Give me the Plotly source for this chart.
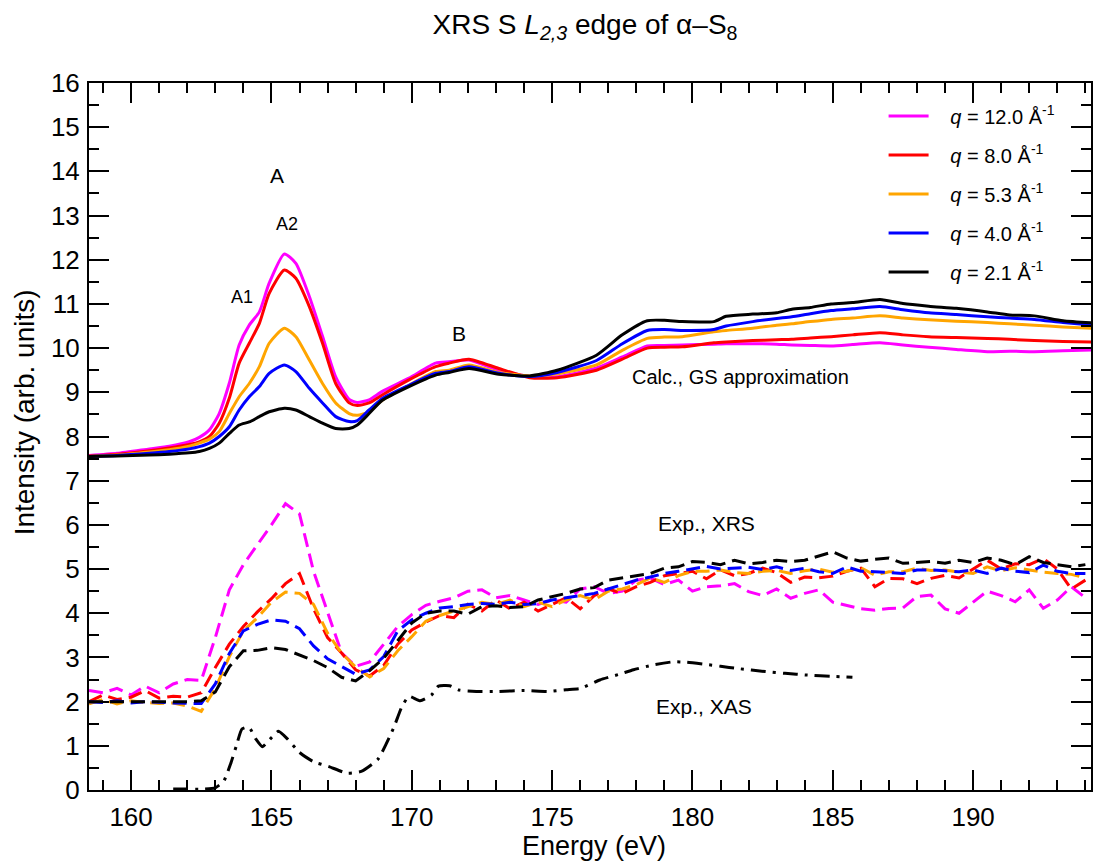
import numpy as np
import plotly.graph_objects as go

# ---------------- calculated spectra (GS approximation) ----------------
calc_energy = [158.5, 159.5, 160.65, 161.36, 162.07, 162.43, 162.79, 163.14, 163.5, 163.85,
               164.21, 164.57, 164.92, 165.46, 165.87, 166.35, 166.82, 167.29, 167.77, 168.06,
               168.48, 168.95, 169.9, 170.85, 171.33, 172.04, 173.1, 174.2, 175.18, 176.58,
               177.5, 178.39, 179.0, 179.64, 180.76, 181.2, 182.15, 183.0, 183.54, 184.2,
               184.94, 185.7, 186.68, 187.5, 188.42, 189.4, 190.51, 191.3, 192.18, 193.2, 194.25]

calc_q120 = [7.57, 7.62, 7.72, 7.78, 7.88, 7.98, 8.15, 8.52, 9.21, 10.07,
             10.52, 10.82, 11.47, 12.13, 11.92, 11.17, 10.27, 9.35, 8.84, 8.77,
             8.83, 9.02, 9.32, 9.66, 9.69, 9.73, 9.5, 9.36, 9.35, 9.55,
             9.8, 10.05, 10.06, 10.07, 10.09, 10.1, 10.1, 10.09, 10.07, 10.06,
             10.05, 10.08, 10.12, 10.07, 10.02, 9.97, 9.92, 9.93, 9.92, 9.94, 9.96]
calc_q80 = [7.56, 7.6, 7.68, 7.74, 7.82, 7.88, 8.0, 8.3, 8.87, 9.66,
            10.11, 10.56, 11.24, 11.77, 11.58, 10.94, 10.11, 9.2, 8.76, 8.7,
            8.76, 8.94, 9.28, 9.58, 9.66, 9.75, 9.54, 9.33, 9.33, 9.5,
            9.75, 10.0, 10.02, 10.03, 10.12, 10.14, 10.17, 10.19, 10.2, 10.23,
            10.26, 10.3, 10.35, 10.3, 10.26, 10.24, 10.22, 10.2, 10.17, 10.15, 10.14]
calc_q53 = [7.55, 7.58, 7.65, 7.7, 7.78, 7.85, 7.94, 8.11, 8.52, 8.9,
            9.2, 9.58, 10.11, 10.45, 10.26, 9.73, 9.2, 8.76, 8.52, 8.48,
            8.56, 8.82, 9.16, 9.47, 9.5, 9.62, 9.45, 9.37, 9.42, 9.62,
            9.95, 10.22, 10.25, 10.26, 10.37, 10.4, 10.45, 10.52, 10.55, 10.6,
            10.65, 10.68, 10.73, 10.68, 10.64, 10.61, 10.58, 10.55, 10.52, 10.48, 10.45]
calc_q40 = [7.55, 7.57, 7.62, 7.66, 7.72, 7.77, 7.85, 8.0, 8.22, 8.6,
            8.9, 9.13, 9.43, 9.62, 9.47, 9.09, 8.76, 8.45, 8.34, 8.36,
            8.6, 8.86, 9.16, 9.43, 9.47, 9.58, 9.43, 9.36, 9.45, 9.72,
            10.1, 10.4, 10.42, 10.4, 10.42, 10.5, 10.6, 10.67, 10.71, 10.78,
            10.85, 10.89, 10.94, 10.87, 10.8, 10.76, 10.71, 10.68, 10.65, 10.58, 10.52]
calc_q21 = [7.55, 7.56, 7.58, 7.6, 7.63, 7.66, 7.73, 7.85, 8.07, 8.26,
            8.33, 8.45, 8.56, 8.64, 8.6, 8.45, 8.3, 8.18, 8.18, 8.26,
            8.52, 8.82, 9.13, 9.39, 9.45, 9.54, 9.41, 9.37, 9.5, 9.84,
            10.3, 10.62, 10.63, 10.6, 10.6, 10.72, 10.77, 10.8, 10.88, 10.92,
            11.0, 11.03, 11.1, 11.01, 10.95, 10.9, 10.82, 10.75, 10.73, 10.62, 10.57]

# ---------------- experimental XRS spectra ----------------
exp_energy = np.round(np.arange(158.5, 194.01, 0.5), 1)

exp_q120 = [2.25, 2.2, 2.3, 2.15, 2.35, 2.2, 2.4, 2.5, 2.48, 3.45,
            4.53, 5.1, 5.55, 6.0, 6.48, 6.25, 4.95, 4.0, 3.1, 2.8,
            2.9, 3.3, 3.7, 3.97, 4.18, 4.27, 4.35, 4.5, 4.53, 4.35,
            4.4, 4.3, 4.2, 4.3, 4.25, 4.55, 4.6, 4.45, 4.5, 4.75,
            4.8, 4.65, 4.75, 4.5, 4.6, 4.62, 4.67, 4.49, 4.4, 4.55,
            4.34, 4.45, 4.53, 4.25, 4.18, 4.1, 4.07, 4.11, 4.12, 4.38,
            4.41, 4.1, 4.0, 4.26, 4.5, 4.4, 4.26, 4.53, 4.11, 4.3,
            4.6, 4.35]
exp_q80 = [2.0, 2.15, 2.05, 2.1, 2.25, 2.08, 2.12, 2.1, 2.2, 2.77,
           3.3, 3.7, 4.03, 4.33, 4.67, 4.9, 4.1, 3.45, 3.1, 2.72,
           2.58, 2.82, 3.3, 3.62, 3.8, 3.95, 3.9, 4.2, 4.05, 4.3,
           4.1, 4.25, 4.05, 4.2, 4.35, 4.1, 4.4, 4.55, 4.45, 4.6,
           4.7, 4.85, 4.9, 4.95, 4.78, 4.98, 4.85, 4.9, 5.02, 4.92,
           4.7, 4.82, 4.8, 4.84, 4.95, 5.02, 4.6, 4.79, 4.78, 4.67,
           4.79, 4.86, 4.8, 5.0, 5.2, 5.0, 5.12, 5.1, 5.24, 5.0,
           4.55, 4.75]
exp_q53 = [1.95, 2.05, 1.95, 2.02, 1.98, 1.96, 1.97, 1.9, 1.78, 2.3,
           3.02, 3.6, 3.9, 4.25, 4.48, 4.45, 4.2, 3.55, 3.1, 2.78,
           2.56, 2.75, 3.15, 3.47, 3.82, 3.95, 4.05, 4.15, 4.25, 4.2,
           4.3, 4.15, 4.25, 4.15, 4.3, 4.4, 4.3, 4.5, 4.55, 4.65,
           4.8, 4.7, 4.85, 4.95, 4.95, 4.98, 4.92, 4.9, 4.95, 4.97,
           4.9, 4.96, 5.0, 4.93, 4.95, 5.03, 4.86, 4.94, 4.94, 5.02,
           4.97, 4.98, 4.93, 4.9, 5.05, 4.96, 5.03, 4.98, 4.93, 4.9,
           4.88, 4.8]
exp_q40 = [2.0, 1.98, 2.02, 1.97, 2.0, 1.98, 1.97, 1.96, 1.96, 2.4,
           3.09, 3.6, 3.75, 3.85, 3.82, 3.65, 3.26, 2.97, 2.79, 2.62,
           2.72, 3.02, 3.6, 3.85, 4.0, 4.12, 4.15, 4.2, 4.22, 4.2,
           4.25, 4.2, 4.22, 4.3, 4.35, 4.4, 4.45, 4.55, 4.65, 4.75,
           4.82, 4.9, 4.95, 5.0, 5.06, 5.0, 5.02, 5.04, 4.99, 5.05,
           4.97, 5.02, 4.94, 4.9, 5.05, 4.95, 4.94, 4.92, 4.9, 4.98,
           4.98, 4.96, 4.94, 4.98, 4.9, 5.02, 4.95, 4.92, 5.09, 4.95,
           4.9, 4.9]
exp_q21 = [2.0, 2.0, 2.0, 2.0, 2.0, 2.0, 2.0, 2.0, 2.02, 2.22,
           2.79, 3.15, 3.16, 3.22, 3.18, 3.05, 2.93, 2.77, 2.55, 2.47,
           2.7, 2.98, 3.38, 3.78, 4.0, 4.05, 4.05, 3.98, 4.15, 4.17,
           4.13, 4.15, 4.3, 4.38, 4.45, 4.55, 4.58, 4.75, 4.8, 4.86,
           4.9, 5.02, 5.05, 5.17, 5.15, 5.1, 5.2, 5.12, 5.15, 5.2,
           5.17, 5.2, 5.3, 5.39, 5.25, 5.18, 5.22, 5.25, 5.13, 5.15,
           5.17, 5.13, 5.2, 5.15, 5.25, 5.2, 5.1, 5.28, 5.15, 5.1,
           5.05, 5.1]

# ---------------- experimental XAS spectrum ----------------
xas_energy = [161.5, 162.0, 162.5, 163.0, 163.3, 163.55, 163.75, 163.95, 164.2, 164.45,
              164.68, 164.95, 165.25, 165.55, 166.0, 166.5, 167.05, 167.7, 168.2, 168.8,
              169.35, 169.65, 169.9, 170.3, 170.7, 170.95, 171.35, 171.7, 172.3, 173.1,
              174.0, 174.9, 175.5, 176.0, 176.7, 177.4, 177.9, 178.6, 179.3, 179.8,
              180.5, 181.0, 181.6, 182.6, 183.3, 184.1, 185.0, 185.7]
xas_intensity = [0.02, 0.02, 0.02, 0.05, 0.2, 0.6, 1.0, 1.38, 1.42, 1.15,
                 0.98, 1.15, 1.33, 1.17, 0.85, 0.64, 0.53, 0.38, 0.42, 0.7,
                 1.4, 1.89, 2.12, 2.02, 2.15, 2.35, 2.36, 2.26, 2.23, 2.23,
                 2.25, 2.23, 2.27, 2.3, 2.49, 2.62, 2.72, 2.83, 2.9, 2.89,
                 2.84, 2.8, 2.75, 2.68, 2.64, 2.6, 2.57, 2.55]

q_labels = ["12.0", "8.0", "5.3", "4.0", "2.1"]
colors = ["#ff00ff", "#ff0000", "#ffa500", "#0000ff", "#000000"]
calc_series = [calc_q120, calc_q80, calc_q53, calc_q40, calc_q21]
exp_series = [exp_q120, exp_q80, exp_q53, exp_q40, exp_q21]

FONT = "Liberation Sans, Arial, Helvetica, sans-serif"
GAP = "\u00a0\u00a0\u00a0"  # spacing between legend line sample and its label

fig = go.Figure()

for q, c, ys in zip(q_labels, colors, exp_series):
    fig.add_trace(go.Scatter(
        x=exp_energy, y=ys, mode="lines", showlegend=False,
        line=dict(color=c, width=3, dash="14px,7px"),
    ))

fig.add_trace(go.Scatter(
    x=xas_energy, y=xas_intensity, mode="lines", showlegend=False,
    line=dict(color="black", width=3, dash="15px,7px,3px,7px", shape="spline", smoothing=0.5),
))

for q, c, ys in zip(q_labels, colors, calc_series):
    fig.add_trace(go.Scatter(
        x=calc_energy, y=ys, mode="lines",
        name=f"{GAP}<i>q</i> = {q} Å<sup>-1</sup>", legendgroup=q,
        line=dict(color=c, width=3, shape="spline", smoothing=0.6),
    ))

notes = [
    (165.2, 13.9, "A", 21),
    (165.55, 12.8, "A2", 18),
    (163.95, 11.15, "A1", 18),
    (171.7, 10.32, "B", 21),
    (181.7, 9.34, "Calc., GS approximation", 20),
    (180.5, 6.04, "Exp., XRS", 21),
    (180.4, 1.88, "Exp., XAS", 21),
]
for x, y, t, s in notes:
    fig.add_annotation(x=x, y=y, text=t, showarrow=False,
                       font=dict(family=FONT, size=s, color="black"))

# axis titles placed explicitly around the frame
fig.add_annotation(x=-65 / 1004, xref="paper", xanchor="center", y=8.55, yref="y",
                   text="Intensity (arb. units)", textangle=-90, showarrow=False,
                   font=dict(family=FONT, size=28, color="black"))
fig.add_annotation(x=0.504, xref="paper", xanchor="center", y=-56 / 707, yref="paper",
                   yanchor="middle", text="Energy (eV)", showarrow=False,
                   font=dict(family=FONT, size=27, color="black"))

axis_common = dict(
    showline=True, linecolor="black", linewidth=2, mirror="allticks",
    ticks="inside", tickcolor="black", tickwidth=2,
    showgrid=False, zeroline=False,
    tickfont=dict(family=FONT, size=26, color="black"),
)

fig.update_xaxes(
    range=[158.5, 194.2], dtick=5, tick0=160, ticklen=20,
    minor=dict(dtick=1, ticklen=10, tickwidth=2, tickcolor="black", ticks="inside"),
    ticklabelstandoff=3,
    **axis_common,
)
fig.update_yaxes(
    range=[0, 16], dtick=1, tick0=0, ticklen=20,
    minor=dict(dtick=0.5, ticklen=10, tickwidth=2, tickcolor="black", ticks="inside"),
    ticklabelstandoff=2,
    **axis_common,
)

fig.update_layout(
    width=1094, height=861,
    margin=dict(l=89, r=1, t=83, b=71),
    paper_bgcolor="white", plot_bgcolor="white",
    title=dict(text="XRS S <i>L</i><sub><i>2,3</i></sub> edge of α–S<sub>8</sub>",
               x=0.495, xref="paper", y=0.972, yanchor="middle",
               font=dict(family=FONT, size=28, color="black")),
    legend=dict(x=0.793, y=0.981, xanchor="left", yanchor="top",
                bgcolor="rgba(255,255,255,0)", borderwidth=0,
                font=dict(family=FONT, size=20, color="black"),
                traceorder="grouped", tracegroupgap=10, itemwidth=40),
    showlegend=True,
)

fig.write_html("out.html")
